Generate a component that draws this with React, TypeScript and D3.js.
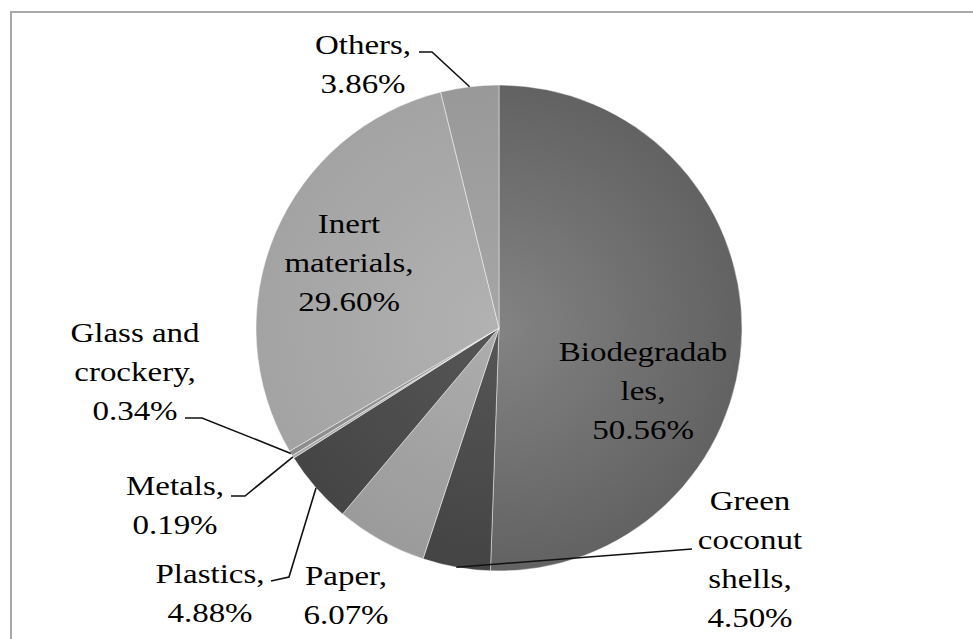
import React from 'react'
import * as d3 from 'd3'

const categories = [
  'Biodegradables',
  'Green coconut shells',
  'Paper',
  'Plastics',
  'Metals',
  'Glass and crockery',
  'Inert materials',
  'Others',
]
const shares = [50.56, 4.5, 6.07, 4.88, 0.19, 0.34, 29.6, 3.86]
const labelLines = [
  ['Biodegradab', 'les,'],
  ['Green', 'coconut', 'shells,'],
  ['Paper,'],
  ['Plastics,'],
  ['Metals,'],
  ['Glass and', 'crockery,'],
  ['Inert', 'materials,'],
  ['Others,'],
]

// inner / outer shade for each slice (grayscale excel look)
const sliceColors = [
  ['#838383', '#626262'],
  ['#565656', '#444444'],
  ['#adadad', '#9b9b9b'],
  ['#565656', '#454545'],
  ['#b8b8b8', '#a8a8a8'],
  ['#9c9c9c', '#8c8c8c'],
  ['#b2b2b2', '#a3a3a3'],
  ['#a6a6a6', '#999999'],
]

// label placement: first baseline + leader start points
const labelLayout = [
  { x: 643, y: 361, leader: null },
  { x: 750, y: 510, leader: [[692, 549]] },
  { x: 346, y: 585, leader: null },
  { x: 210, y: 583, leader: [[271, 581], [289, 577]] },
  { x: 175, y: 495, leader: [[231, 496], [245, 496]] },
  { x: 135, y: 342, leader: [[185, 418], [202, 418]] },
  { x: 349, y: 233, leader: null },
  { x: 363, y: 54, leader: [[419, 52], [432, 52]] },
]

const W = 973
const H = 639
const cx = 499
const cy = 328
const R = 243
const lineH = 39

export default function App() {
  const pie = d3.pie<number>().sort(null).value(d => d)
  const arcs = pie(shares)
  const arc = d3.arc<d3.PieArcDatum<number>>().innerRadius(0).outerRadius(R)
  const edge = d3.arc<d3.PieArcDatum<number>>().innerRadius(R).outerRadius(R)
  const line = d3.line()

  return (
    <svg width={W} height={H} style={{ position: 'absolute', left: 0, top: 0, background: '#fff' }}>
      <defs>
        {sliceColors.map((c, i) => (
          <radialGradient key={i} id={'sl' + i} gradientUnits="userSpaceOnUse" cx={0} cy={0} r={R}>
            <stop offset="0%" stopColor={c[0]} />
            <stop offset="100%" stopColor={c[1]} />
          </radialGradient>
        ))}
      </defs>

      {/* frame */}
      <rect x={11} y={12} width={1000} height={700} fill="none" stroke="#a9a9a9" strokeWidth={2} />

      <g transform={`translate(${cx},${cy})`}>
        {arcs.map((d, i) => (
          <path
            key={i}
            d={arc(d) || ''}
            fill={`url(#sl${i})`}
            stroke="rgba(255,255,255,0.45)"
            strokeWidth={1}
          >
            <title>{categories[i]}</title>
          </path>
        ))}
      </g>

      {/* leader lines */}
      {arcs.map((d, i) => {
        const lay = labelLayout[i]
        if (!lay.leader) return null
        const [ex, ey] = edge.centroid(d)
        const pts = [...lay.leader, [ex + cx, ey + cy]] as [number, number][]
        return <path key={'l' + i} d={line(pts) || ''} fill="none" stroke="#111" strokeWidth={1.6} />
      })}

      {/* labels */}
      {arcs.map((d, i) => {
        const lay = labelLayout[i]
        const lines = [...labelLines[i], shares[i].toFixed(2) + '%']
        return lines.map((t, k) => (
          <text
            key={'t' + i + '-' + k}
            transform={`translate(${lay.x},${lay.y + k * lineH}) scale(1,0.86)`}
            textAnchor="middle"
            fontSize={33}
            fill="#000"
            style={{ fontFamily: "'Liberation Serif'" }}
          >
            {t}
          </text>
        ))
      })}
    </svg>
  )
}
